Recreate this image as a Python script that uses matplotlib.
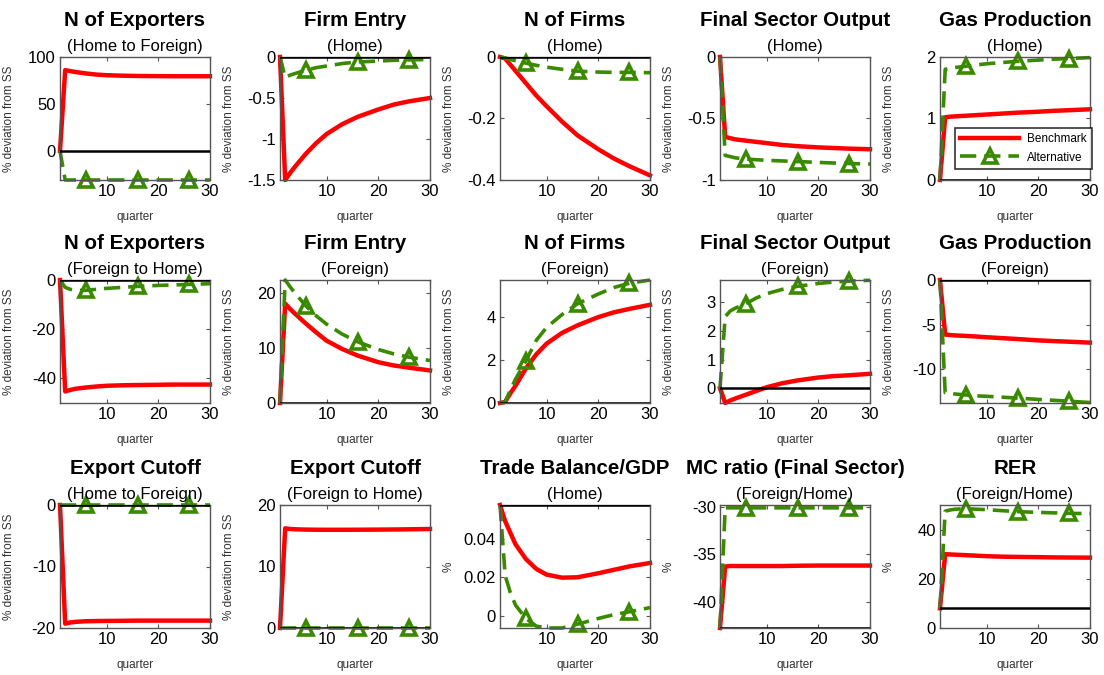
import matplotlib
matplotlib.use("Agg")
import matplotlib.pyplot as plt
from matplotlib.ticker import FuncFormatter

plt.rcParams['font.family'] = ['Liberation Sans', 'DejaVu Sans']
plt.rcParams['axes.unicode_minus'] = False

quarters = [1, 2, 3, 4, 6, 8, 10, 13, 16, 20, 23, 26, 30]
marker_quarters = [6, 16, 26]

# panel titles (bold) and subtitles
titles = ['N of Exporters', 'Firm Entry', 'N of Firms', 'Final Sector Output', 'Gas Production',
          'N of Exporters', 'Firm Entry', 'N of Firms', 'Final Sector Output', 'Gas Production',
          'Export Cutoff', 'Export Cutoff', 'Trade Balance/GDP', 'MC ratio (Final Sector)', 'RER']
subtitles = ['(Home to Foreign)', '(Home)', '(Home)', '(Home)', '(Home)',
             '(Foreign to Home)', '(Foreign)', '(Foreign)', '(Foreign)', '(Foreign)',
             '(Home to Foreign)', '(Foreign to Home)', '(Home)', '(Foreign/Home)', '(Foreign/Home)']
ylabels = ['% deviation from SS'] * 12 + ['%', '%', '%']

# Benchmark (red) and Alternative (green) responses
exp_hf_bench = [0, 86, 85, 84, 82.5, 81.3, 80.6, 80.1, 79.8, 79.6, 79.5, 79.5, 79.5]
exp_hf_alt = [0, -31, -31, -31, -31, -31, -31, -31, -31, -31, -31, -31, -31]
entry_h_bench = [0, -1.5, -1.41, -1.33, -1.18, -1.05, -0.94, -0.82, -0.73, -0.64, -0.58, -0.54, -0.50]
entry_h_alt = [0, -0.25, -0.22, -0.2, -0.16, -0.13, -0.11, -0.08, -0.06, -0.05, -0.04, -0.035, -0.03]
firms_h_bench = [0, -0.005, -0.025, -0.045, -0.085, -0.125, -0.16, -0.21, -0.255, -0.30, -0.33, -0.355, -0.385]
firms_h_alt = [0, -0.003, -0.008, -0.012, -0.02, -0.027, -0.033, -0.04, -0.046, -0.049, -0.05, -0.05, -0.051]
output_h_bench = [0, -0.65, -0.66, -0.67, -0.68, -0.69, -0.70, -0.715, -0.725, -0.735, -0.74, -0.745, -0.75]
output_h_alt = [0, -0.80, -0.81, -0.82, -0.83, -0.835, -0.84, -0.845, -0.85, -0.857, -0.862, -0.866, -0.87]
gas_h_bench = [0, 1.02, 1.03, 1.035, 1.045, 1.055, 1.065, 1.08, 1.095, 1.11, 1.125, 1.135, 1.15]
gas_h_alt = [0, 1.80, 1.82, 1.83, 1.85, 1.87, 1.89, 1.91, 1.93, 1.95, 1.965, 1.975, 1.99]

exp_fh_bench = [0, -45.3, -44.7, -44.2, -43.7, -43.3, -43.0, -42.8, -42.7, -42.6, -42.5, -42.5, -42.5]
exp_fh_alt = [0, -3.0, -3.8, -4.2, -4.2, -3.8, -3.4, -3.0, -2.6, -2.2, -2.0, -1.8, -1.5]
entry_f_bench = [0, 18.0, 17.0, 16.1, 14.4, 12.8, 11.3, 9.8, 8.6, 7.4, 6.8, 6.4, 5.9]
entry_f_alt = [0, 22.3, 21.0, 19.8, 17.6, 15.8, 14.3, 12.5, 11.1, 9.7, 8.9, 8.3, 7.7]
firms_f_bench = [0, 0.05, 0.45, 0.8, 1.6, 2.25, 2.75, 3.25, 3.6, 3.98, 4.2, 4.36, 4.55]
firms_f_alt = [0, 0.05, 0.6, 1.1, 1.95, 2.9, 3.5, 4.1, 4.6, 5.05, 5.35, 5.55, 5.7]
output_f_bench = [0, -0.52, -0.43, -0.36, -0.23, -0.1, 0.03, 0.17, 0.27, 0.37, 0.42, 0.45, 0.5]
output_f_alt = [0, 2.5, 2.7, 2.8, 2.95, 3.15, 3.3, 3.45, 3.56, 3.66, 3.71, 3.74, 3.77]
gas_f_bench = [0, -6.1, -6.15, -6.2, -6.25, -6.32, -6.4, -6.5, -6.6, -6.75, -6.83, -6.9, -7.0]
gas_f_alt = [0, -12.6, -12.7, -12.75, -12.85, -12.95, -13.0, -13.1, -13.2, -13.35, -13.45, -13.55, -13.7]

cut_hf_bench = [0, -19.3, -19.1, -19.0, -18.9, -18.87, -18.85, -18.83, -18.8, -18.8, -18.8, -18.8, -18.8]
cut_hf_alt = [0, 0, 0, 0, 0, 0, 0, 0, 0, 0, 0, 0, 0]
cut_fh_bench = [0, 16.2, 16.1, 16.05, 16.0, 15.98, 15.97, 15.97, 15.98, 16.0, 16.02, 16.05, 16.1]
cut_fh_alt = [0, 0, 0, 0, 0, 0, 0, 0, 0, 0, 0, 0, 0]
tb_bench = [0.058, 0.0495, 0.0434, 0.0374, 0.0297, 0.0245, 0.0215, 0.0199, 0.0201, 0.0222, 0.024, 0.0258, 0.0276]
tb_alt = [0.058, 0.021, 0.012, 0.0055, -0.0015, -0.0055, -0.0065, -0.0065, -0.0045, -0.0015, 0.0005, 0.002, 0.0042]
mc_bench = [-42.8, -36.3, -36.25, -36.25, -36.25, -36.25, -36.25, -36.25, -36.22, -36.2, -36.2, -36.2, -36.2]
mc_alt = [-42.8, -30.1, -30.1, -30.1, -30.1, -30.1, -30.1, -30.1, -30.1, -30.1, -30.1, -30.1, -30.1]
rer_bench = [8, 30.0, 29.9, 29.8, 29.6, 29.4, 29.2, 29.0, 28.9, 28.8, 28.7, 28.65, 28.6]
rer_alt = [8, 47.5, 48.0, 48.3, 48.5, 48.3, 48.1, 47.7, 47.3, 47.0, 46.8, 46.6, 46.5]

bench = [exp_hf_bench, entry_h_bench, firms_h_bench, output_h_bench, gas_h_bench,
         exp_fh_bench, entry_f_bench, firms_f_bench, output_f_bench, gas_f_bench,
         cut_hf_bench, cut_fh_bench, tb_bench, mc_bench, rer_bench]
alt = [exp_hf_alt, entry_h_alt, firms_h_alt, output_h_alt, gas_h_alt,
       exp_fh_alt, entry_f_alt, firms_f_alt, output_f_alt, gas_f_alt,
       cut_hf_alt, cut_fh_alt, tb_alt, mc_alt, rer_alt]

# steady-state reference line per panel (None = not drawn)
ref_levels = [0, 0, 0, None, 0, 0, 0, 0, 0, 0, 0, 0, 0.058, -42.8, 8]

ylims = [(-31, 100), (-1.5, 0), (-0.4, 0), (-1, 0), (0, 2),
         (-50, 0), (0, 22.3), (0, 5.7), (-0.52, 3.78), (-13.75, 0),
         (-20, 0), (0, 20), (-0.0065, 0.058), (-42.8, -29.8), (0, 50)]
yticks = [[0, 50, 100], [-1.5, -1, -0.5, 0], [-0.4, -0.2, 0], [-1, -0.5, 0], [0, 1, 2],
          [-40, -20, 0], [0, 10, 20], [0, 2, 4], [0, 1, 2, 3], [-10, -5, 0],
          [-20, -10, 0], [0, 10, 20], [0, 0.02, 0.04], [-40, -35, -30], [0, 20, 40]]

RED = '#ff0000'
GREEN = '#3a8a00'

W, H = 1104, 675
fig = plt.figure(figsize=(W / 100, H / 100), dpi=100)

col_left = [60, 280, 500, 720, 940]
row_top = [57, 280, 505]
ax_w, ax_h = 150, 123

mark_idx = [quarters.index(q) for q in marker_quarters]
fmt = FuncFormatter(lambda v, p: f'{v:g}')

for i in range(15):
    r, c = divmod(i, 5)
    ax = fig.add_axes([col_left[c] / W, 1 - (row_top[r] + ax_h) / H, ax_w / W, ax_h / H])

    ax.plot(quarters, bench[i], color=RED, lw=3.2, zorder=2, clip_on=False, label='Benchmark')
    ax.plot(quarters, alt[i], color=GREEN, lw=2.6, dashes=(4.5, 2.2), marker='^', ms=10,
            mfc='none', mec=GREEN, mew=2.6, markevery=mark_idx, zorder=2.5, clip_on=False,
            label='Alternative')
    if ref_levels[i] is not None:
        ax.axhline(ref_levels[i], color='black', lw=1.8, zorder=3)

    ax.set_xlim(1, 30)
    ax.set_ylim(*ylims[i])
    ax.set_xticks([10, 20, 30])
    ax.set_yticks(yticks[i])
    ax.yaxis.set_major_formatter(fmt)
    ax.tick_params(direction='in', top=True, right=True, length=3, width=0.8,
                   labelsize=12, pad=3, color='#555555')
    for s in ax.spines.values():
        s.set_color('#555555')
        s.set_linewidth(1.0)

    ax.set_xlabel('quarter', fontsize=8.5, color='#333333')
    ax.xaxis.set_label_coords(0.5, -0.255)
    ax.set_ylabel(ylabels[i], fontsize=8.5, color='#333333')
    ax.yaxis.set_label_coords(-0.30, 0.5)

    ax.text(0.5, 1.30, titles[i], transform=ax.transAxes, ha='center', va='center',
            fontsize=14.8, fontweight='bold')
    ax.text(0.5, 1.085, subtitles[i], transform=ax.transAxes, ha='center', va='center',
            fontsize=12)

    if i == 4:
        leg = ax.legend(loc='lower right', bbox_to_anchor=(1.01, 0.09), fontsize=8.5,
                        handlelength=5.0, frameon=True, fancybox=False, borderpad=0.45,
                        labelspacing=0.55, handletextpad=0.6, borderaxespad=0)
        leg.get_frame().set_edgecolor('black')
        leg.get_frame().set_linewidth(1.2)

fig.savefig('out.png', dpi=100)
